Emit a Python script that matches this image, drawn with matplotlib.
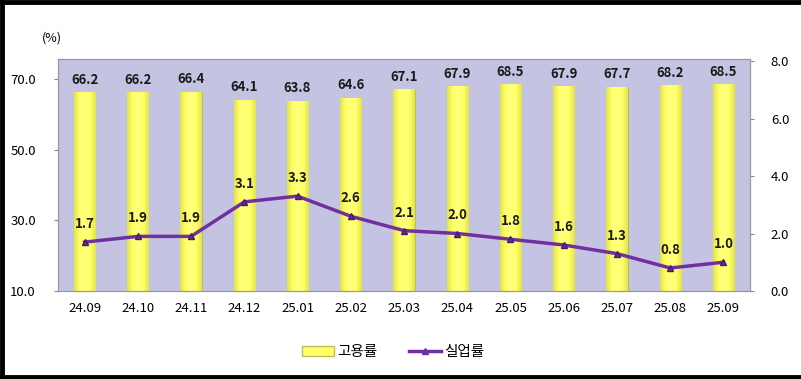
import matplotlib
matplotlib.use("Agg")
import matplotlib.pyplot as plt
from matplotlib.patches import Rectangle
from matplotlib.lines import Line2D
from matplotlib.colors import LinearSegmentedColormap
import numpy as np

plt.rcParams['font.family'] = ['Noto Sans CJK KR', 'DejaVu Sans']

categories = ['24.09', '24.10', '24.11', '24.12', '25.01', '25.02', '25.03',
              '25.04', '25.05', '25.06', '25.07', '25.08', '25.09']
employment = [66.2, 66.2, 66.4, 64.1, 63.8, 64.6, 67.1, 67.9, 68.5, 67.9, 67.7, 68.2, 68.5]
unemployment = [1.7, 1.9, 1.9, 3.1, 3.3, 2.6, 2.1, 2.0, 1.8, 1.6, 1.3, 0.8, 1.0]
left_ticks = [10, 30, 50, 70]
right_ticks = [0, 2, 4, 6, 8]

Y_MIN, Y_MAX = 10, 75.6

fig = plt.figure(figsize=(8.01, 3.79), dpi=100)
ax = fig.add_axes([58/801, 1-291/379, (750-58)/801, (291-59)/379])
ax.set_facecolor('#C4C4E2')
x = np.arange(len(categories))
bars = ax.bar(x, employment, width=0.4, bottom=0, color='#FFFF66',
              edgecolor='#BDBD58', linewidth=0.8, zorder=2)

# gradient fill for bars (kept within the visible axis range)
cmap = LinearSegmentedColormap.from_list('yg', ['#E2E24E', '#FFFF66', '#FFFF80', '#FFFF66', '#E2E24E'])
grad = np.linspace(0, 1, 64).reshape(1, -1)
for b in bars:
    bx, by = b.get_x(), b.get_y()
    bw, bh = b.get_width(), b.get_height()
    im = ax.imshow(grad, cmap=cmap, extent=[bx, bx + bw, max(by, Y_MIN), by + bh],
                   aspect='auto', zorder=2.1, interpolation='bicubic')
    im.set_clip_path(b)
ax.set_xlim(-0.5, len(categories)-0.5)
ax.set_ylim(Y_MIN, Y_MAX)

ax.set_yticks(left_ticks)
ax.set_yticklabels([f'{v:.1f}' for v in left_ticks])
ax.set_xticks(x)
ax.set_xticklabels(categories)
ax.tick_params(axis='x', length=0, pad=8, labelsize=9.5)
ax.tick_params(axis='y', length=3, color='#888888', labelsize=9.5, pad=13)
for s in ax.spines.values():
    s.set_color('#999999')
    s.set_linewidth(0.8)
for xi, v in zip(x, employment):
    ax.annotate(f'{v:.1f}', (xi, v), xytext=(0, 4), textcoords='offset points',
                ha='center', va='bottom', fontsize=9.5, fontweight='bold', color='#1a1a1a')

ax2 = ax.twinx()
ax2.plot(x, unemployment, color='#7030A0', linewidth=2.5, marker='^',
         markersize=5, markerfacecolor='#6A2E8E', markeredgecolor='#4A1A6A', zorder=3)
ax2.set_ylim(0, 8.07)
ax2.set_yticks(right_ticks)
ax2.set_yticklabels([f'{v:.1f}' for v in right_ticks])
ax2.tick_params(axis='y', length=3, color='#888888', labelsize=9.5, pad=12)
for s in ax2.spines.values():
    s.set_color('#999999')
    s.set_linewidth(0.8)
for xi, v in zip(x, unemployment):
    ax2.annotate(f'{v:.1f}', (xi, v), xytext=(0, 8), textcoords='offset points',
                 ha='center', va='bottom', fontsize=9.5, fontweight='bold', color='#1a1a1a')

fig.text(52/801, 1-38/379, '(%)', ha='center', va='center', fontsize=9)

handles = [Rectangle((0, 0), 1, 1, facecolor='#FFFF66', edgecolor='#BDBD58'),
           Line2D([0], [0], color='#7030A0', linewidth=2.5, marker='^', markersize=4)]
fig.legend(handles, ['고용률', '실업률'], loc='center', bbox_to_anchor=(393/801, 1-352/379),
           ncol=2, frameon=False, fontsize=10.5, handlelength=2.2, columnspacing=2.2,
           handletextpad=0.2)

# figure border (top, left, bottom)
for xs, ys in [([0, 1], [0.996, 0.996]), ([0.002, 0.002], [0, 1]), ([0, 1], [0.005, 0.005])]:
    fig.add_artist(Line2D(xs, ys, transform=fig.transFigure, color='black', linewidth=3.5))

fig.savefig('out.png', dpi=100)
